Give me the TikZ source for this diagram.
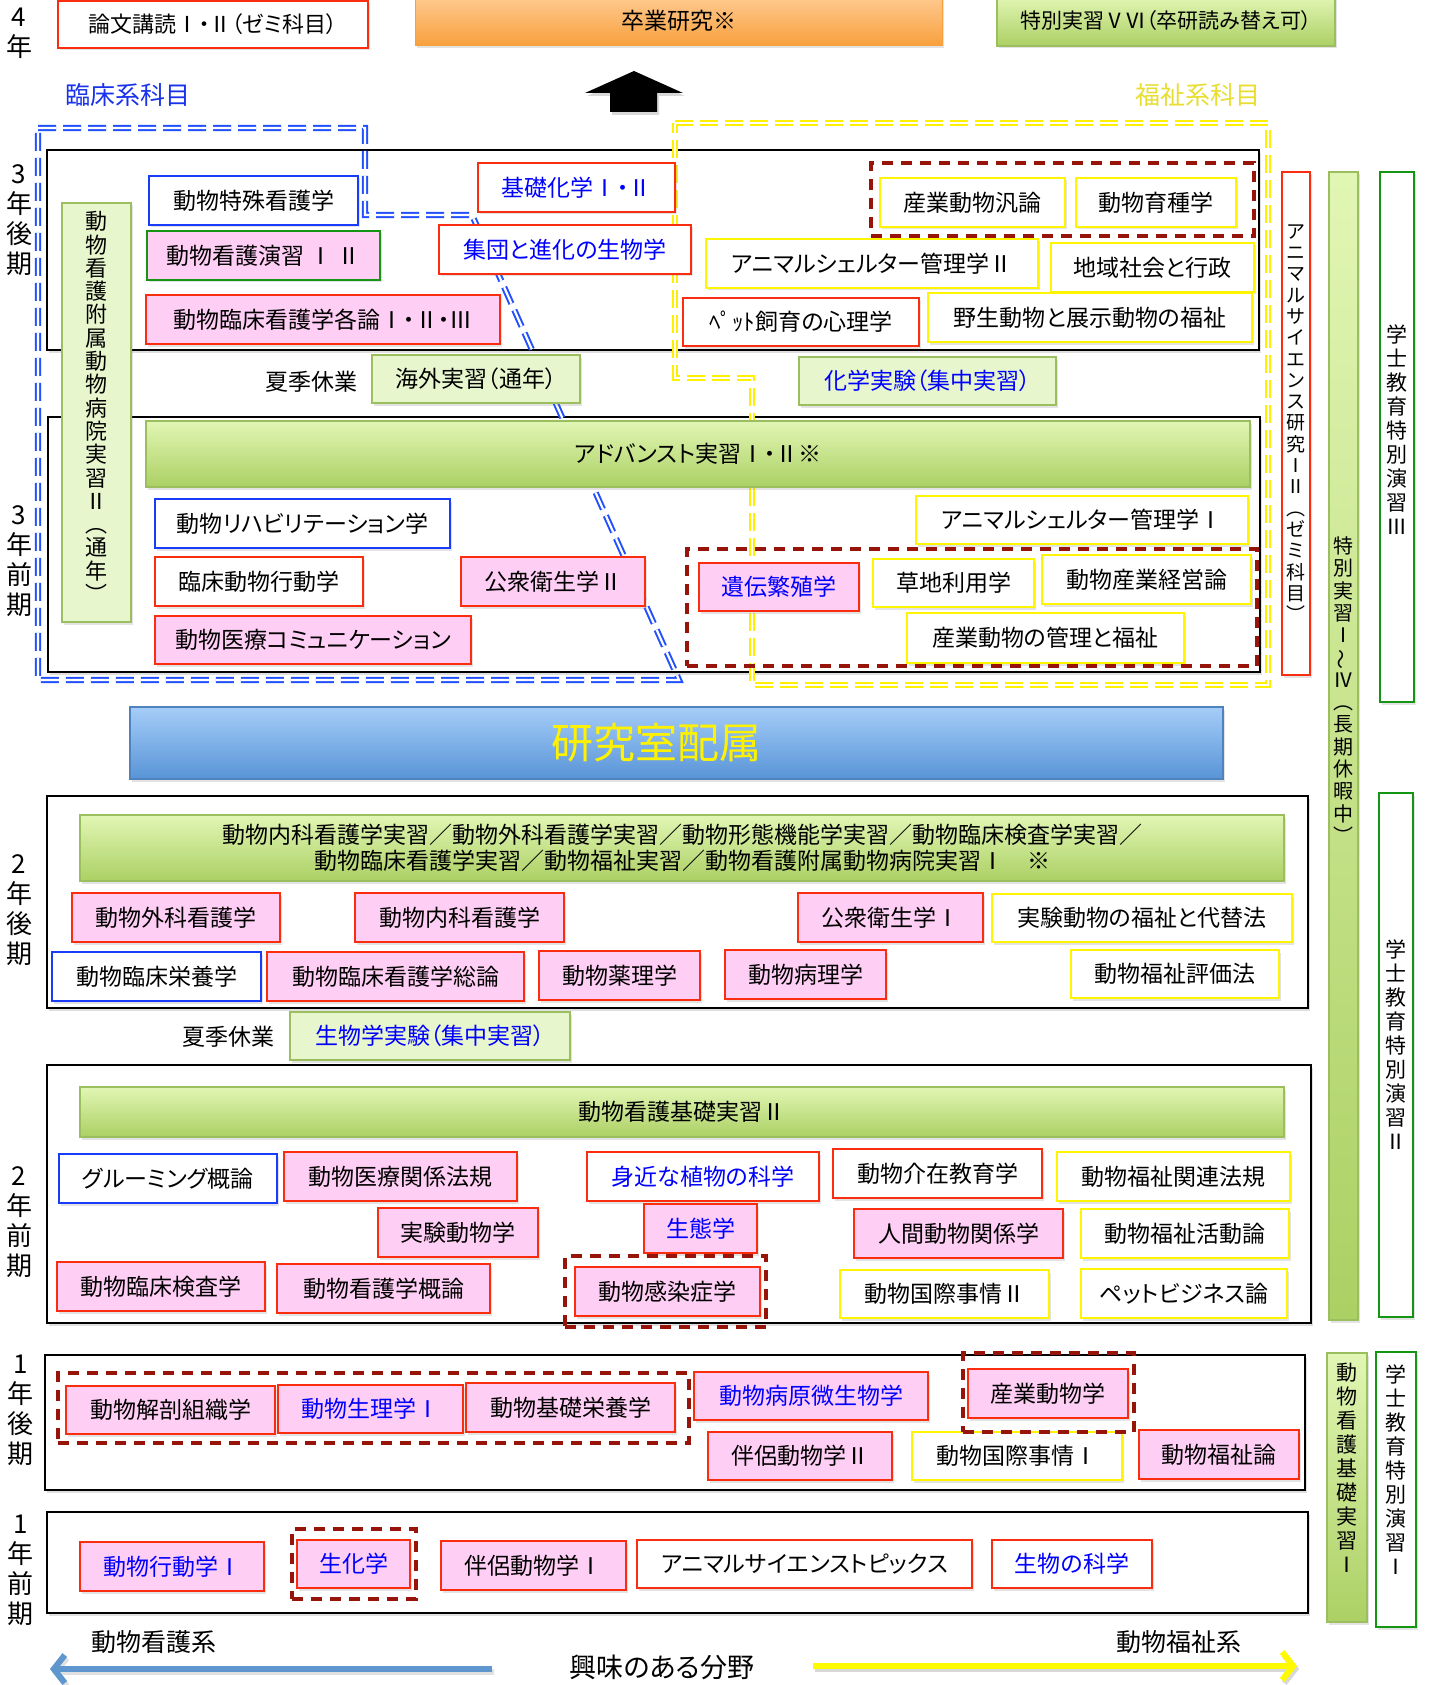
\documentclass[tikz,border=0pt]{standalone}
\usepackage{fontspec}
\usepackage{graphicx}
\setmainfont{Noto Sans CJK JP}[RawFeature=+palt]
\usetikzlibrary{shadows,arrows.meta}
\definecolor{myred}{RGB}{250,45,15}
\definecolor{mypink}{RGB}{255,206,245}
\definecolor{myyel}{RGB}{255,245,0}
\definecolor{mybl}{RGB}{25,60,250}
\definecolor{txbl}{RGB}{0,0,255}
\definecolor{mygrn}{RGB}{20,150,20}
\definecolor{grb}{RGB}{155,190,95}
\definecolor{grtop}{RGB}{225,246,180}
\definecolor{grbot}{RGB}{172,208,100}
\definecolor{grpale}{RGB}{232,246,205}
\definecolor{dred}{RGB}{150,20,10}
\definecolor{otop}{RGB}{255,202,145}
\definecolor{obot}{RGB}{248,160,60}
\definecolor{btop}{RGB}{165,205,248}
\definecolor{bbot}{RGB}{88,148,215}
\definecolor{bbord}{RGB}{80,130,190}
\definecolor{olblue}{RGB}{35,80,255}
\definecolor{olyel}{RGB}{255,240,0}
\definecolor{arblue}{RGB}{95,150,205}
\definecolor{aryel}{RGB}{255,250,0}
\definecolor{fuku}{RGB}{232,222,50}
\definecolor{rinbl}{RGB}{25,50,235}
\newcommand\bx[8][]{\node[#3,#1,minimum width=#6pt-#4pt,minimum height=#7pt-#5pt] (#2) at ({(#4+#6)/2},{(#5+#7)/2}) {#8};}
\begin{document}
\begin{tikzpicture}[x=1pt,y=-1pt,
  base/.style={rectangle,inner sep=0pt,outer sep=0pt,line width=1.6pt,font=\fontsize{23}{27}\selectfont,drop shadow={opacity=0.22,shadow xshift=2pt,shadow yshift=-2.5pt}},
  rp/.style={base,draw=myred,fill=mypink},
  rw/.style={base,draw=myred,fill=white},
  yw/.style={base,draw=myyel,fill=white},
  bw/.style={base,draw=mybl,fill=white},
  gp/.style={base,draw=mygrn,fill=mypink},
  gw/.style={base,draw=mygrn,fill=white},
  gbar/.style={base,draw=grb,line width=1.4pt,top color=grtop,bottom color=grbot},
  gpale/.style={base,draw=grb,line width=1.4pt,fill=grpale},
  orng/.style={base,draw=obot,line width=1pt,top color=otop,bottom color=obot},
  bt/.style={text=txbl},
  cont/.style={rectangle,inner sep=0pt,outer sep=0pt,draw=black,line width=2pt,fill=white,drop shadow={opacity=0.25,shadow xshift=2pt,shadow yshift=-3pt}},
  grp/.style={rectangle,inner sep=0pt,draw=dred,line width=3.5pt,dash pattern=on 11pt off 8pt},
  olb/.style={draw=olblue,line width=2pt,double=white,double distance=2.2pt,dash pattern=on 18pt off 7pt,line join=miter},
  oly/.style={draw=olyel,line width=2pt,double=white,double distance=2.2pt,dash pattern=on 18pt off 7pt,line join=miter},
  vt/.style={align=center,inner sep=0pt},
  yl/.style={align=center,inner sep=0pt,font=\fontsize{26}{30}\selectfont},
  lbl/.style={inner sep=0pt,font=\fontsize{23}{27}\selectfont}
]
\useasboundingbox (0,0) rectangle (1430,1685);
\fill[white] (0,0) rectangle (1430,1685);

% ---------- containers ----------
\bx{c3b}{cont}{47}{150}{1259}{350}{}
\bx{c3a}{cont}{48}{417}{1260}{672}{}
\bx{c2b}{cont}{47}{796}{1308}{1008}{}
\bx{c2a}{cont}{47}{1065}{1311}{1323}{}
\bx{c1b}{cont}{45}{1355}{1305}{1490}{}
\bx{c1a}{cont}{47}{1512}{1308}{1613}{}

% ---------- area outlines ----------
\draw[olb] (38,128) -- (365,128) -- (365,215) -- (472,215) -- (679,680) -- (38,680) -- cycle;
\draw[oly] (675,123) -- (1268,123) -- (1268,685) -- (752,685) -- (752,378) -- (675,378) -- cycle;

% ---------- year 4 ----------
\node[yl] (l4) at (19,33) {4\\年};
\bx[font=\fontsize{22}{26}\selectfont]{ronbun}{rw}{58}{1}{368}{48}{論文講読Ⅰ・Ⅱ（ゼミ科目）}
\bx{sotsu}{orng}{415}{-4}{942}{46}{卒業研究※}
\bx[font=\fontsize{21}{25}\selectfont]{toku56}{gbar}{997}{-4}{1335}{46}{特別実習ⅤⅥ（卒研読み替え可）}
\path[fill=black,drop shadow={opacity=0.3,shadow xshift=2pt,shadow yshift=-3pt}] (585,93) -- (634,71) -- (683,93) -- (657,93) -- (657,112) -- (610,112) -- (610,93) -- cycle;
\node[inner sep=0pt,font=\fontsize{25}{28}\selectfont,text=rinbl] (rinsho) at (128,95) {臨床系科目};
\node[inner sep=0pt,font=\fontsize{25}{28}\selectfont,text=fuku] (fukushi) at (1198,95) {福祉系科目};

% ---------- year 3 later ----------
\node[yl] (l3b) at (19,220) {3\\年\\後\\期};
\bx{fuzokuB}{gpale}{62}{203}{131}{622}{}
\node[vt,font=\fontsize{22}{23.3}\selectfont] (fuzokuT) at (96.5,407) {動\\物\\看\\護\\附\\属\\動\\物\\病\\院\\実\\習\\Ⅱ\\︵\\通\\年\\︶};
\bx{tokushu}{bw}{149}{176}{358}{225}{動物特殊看護学}
\bx{enshu}{gp}{147}{231}{380}{280}{動物看護演習 Ⅰ Ⅱ}
\bx{kakuron}{rp}{146}{295}{500}{344}{動物臨床看護学各論Ⅰ・Ⅱ・Ⅲ}
\bx{kiso}{rw,bt}{478}{163}{675}{212}{基礎化学Ⅰ・Ⅱ}
\bx{shudan}{rw,bt}{439}{225}{691}{274}{集団と進化の生物学}
\bx{sangyo}{yw}{880}{178}{1065}{227}{産業動物汎論}
\bx{ikushu}{yw}{1076}{178}{1236}{227}{動物育種学}
\bx{shelter2}{yw}{706}{239}{1038}{288}{アニマルシェルター管理学Ⅱ}
\bx{chiiki}{yw}{1051}{243}{1254}{292}{地域社会と行政}
\bx{pet}{rw}{683}{298}{919}{346}{ﾍﾟｯﾄ飼育の心理学}
\bx{yasei}{yw}{928}{293}{1252}{342}{野生動物と展示動物の福祉}

\node[lbl] (kaki1) at (311,382) {夏季休業};
\bx{kaigai}{gpale}{372}{355}{580}{403}{海外実習（通年）}
\bx{kagaku}{gpale,bt}{799}{357}{1056}{405}{化学実験（集中実習）}

% ---------- year 3 early ----------
\node[yl] (l3a) at (19,561) {3\\年\\前\\期};
\bx{adv}{gbar}{146}{421}{1250}{487}{アドバンスト実習Ⅰ・Ⅱ※}
\bx{reha}{bw}{155}{499}{450}{548}{動物リハビリテーション学}
\bx{rinkou}{rw}{155}{557}{363}{606}{臨床動物行動学}
\bx{kouei2}{rp}{461}{557}{645}{606}{公衆衛生学Ⅱ}
\bx{comm}{rp}{155}{616}{471}{664}{動物医療コミュニケーション}
\bx{shelter1}{yw}{916}{496}{1248}{544}{アニマルシェルター管理学Ⅰ}
\bx{iden}{rp,bt}{699}{563}{859}{611}{遺伝繁殖学}
\bx{souchi}{yw}{873}{559}{1034}{607}{草地利用学}
\bx{keiei}{yw}{1042}{555}{1251}{604}{動物産業経営論}
\bx{kanri}{yw}{907}{613}{1184}{663}{産業動物の管理と福祉}

% ---------- right columns ----------
\bx{askenB}{rw}{1282}{172}{1310}{675}{}
\node[vt,font=\fontsize{19}{21.3}\selectfont] (askenT) at (1296,423) {ア\\ニ\\マ\\ル\\サ\\イ\\エ\\ン\\ス\\研\\究\\Ⅰ\\Ⅱ\\︵\\ゼ\\ミ\\科\\目\\︶};
\bx{tokuB}{gbar}{1329}{172}{1358}{1320}{}
\node[vt,font=\fontsize{20}{22.3}\selectfont] (tokuT) at (1343.5,690) {特\\別\\実\\習\\Ⅰ\\\rotatebox[origin=c]{90}{〜}\\Ⅳ\\︵\\長\\期\\休\\暇\\中\\︶};
\bx{gak3B}{gw}{1380}{172}{1414}{702}{}
\node[vt,font=\fontsize{21}{24}\selectfont] (gak3T) at (1397,430) {学\\士\\教\\育\\特\\別\\演\\習\\Ⅲ};
\bx{gak2B}{gw}{1379}{793}{1413}{1317}{}
\node[vt,font=\fontsize{21}{24}\selectfont] (gak2T) at (1396,1045) {学\\士\\教\\育\\特\\別\\演\\習\\Ⅱ};
\bx{kiso1B}{gbar}{1327}{1353}{1367}{1622}{}
\node[vt,font=\fontsize{21}{24}\selectfont] (kiso1T) at (1347,1468) {動\\物\\看\\護\\基\\礎\\実\\習\\Ⅰ};
\bx{gak1B}{gw}{1376}{1352}{1416}{1627}{}
\node[vt,font=\fontsize{21}{24}\selectfont] (gak1T) at (1396,1470) {学\\士\\教\\育\\特\\別\\演\\習\\Ⅰ};

% ---------- lab assignment ----------
\bx[font=\fontsize{42}{46}\selectfont]{kenkyu}{base,draw=bbord,line width=1.5pt,top color=btop,bottom color=bbot,text=yellow}{130}{707}{1223}{779}{研究室配属\kern40pt}

% ---------- year 2 later ----------
\node[yl] (l2b) at (19,910) {2\\年\\後\\期};
\bx[align=center,font=\fontsize{23}{26}\selectfont]{jisshu}{gbar}{80}{815}{1284}{881}{動物内科看護学実習／動物外科看護学実習／動物形態機能学実習／動物臨床検査学実習／\\動物臨床看護学実習／動物福祉実習／動物看護附属動物病院実習Ⅰ　※}
\bx{geka}{rp}{72}{893}{280}{942}{動物外科看護学}
\bx{naika}{rp}{355}{893}{564}{942}{動物内科看護学}
\bx{kouei1}{rp}{798}{893}{983}{942}{公衆衛生学Ⅰ}
\bx{daitai}{yw}{992}{894}{1292}{942}{実験動物の福祉と代替法}
\bx{eiyou}{bw}{52}{952}{261}{1001}{動物臨床栄養学}
\bx{souron}{rp}{267}{952}{524}{1001}{動物臨床看護学総論}
\bx{yakuri}{rp}{539}{951}{700}{1000}{動物薬理学}
\bx{byouri}{rp}{725}{950}{886}{999}{動物病理学}
\bx{hyouka}{yw}{1071}{950}{1279}{998}{動物福祉評価法}

\node[lbl] (kaki2) at (228,1037) {夏季休業};
\bx{seibutsu}{gpale,bt}{290}{1012}{570}{1060}{生物学実験（集中実習）}

% ---------- year 2 early ----------
\node[yl] (l2a) at (19,1222) {2\\年\\前\\期};
\bx{kiso2}{gbar}{80}{1087}{1284}{1137}{動物看護基礎実習Ⅱ}
\bx{groom}{bw}{59}{1154}{277}{1203}{グルーミング概論}
\bx{houki}{rp}{284}{1152}{517}{1201}{動物医療関係法規}
\bx{shokubutsu}{rw,bt}{587}{1152}{819}{1201}{身近な植物の科学}
\bx{kaizai}{rw}{833}{1149}{1042}{1198}{動物介在教育学}
\bx{kanren}{yw}{1057}{1152}{1290}{1201}{動物福祉関連法規}
\bx{jikken}{rp}{378}{1208}{538}{1257}{実験動物学}
\bx{seitai}{rp,bt}{644}{1204}{757}{1253}{生態学}
\bx{ningen}{rp}{854}{1209}{1063}{1258}{人間動物関係学}
\bx{katsudou}{yw}{1081}{1209}{1289}{1258}{動物福祉活動論}
\bx{kensa}{rp}{57}{1262}{265}{1311}{動物臨床検査学}
\bx{gairon}{rp}{277}{1264}{490}{1313}{動物看護学概論}
\bx{kansen}{rp}{575}{1267}{760}{1316}{動物感染症学}
\bx{kokusai2}{yw}{840}{1270}{1049}{1318}{動物国際事情Ⅱ}
\bx{business}{yw}{1081}{1269}{1287}{1318}{ペットビジネス論}

% ---------- year 1 later ----------
\node[yl] (l1b) at (21,1410) {1\\年\\後\\期};
\bx{kaibou}{rp}{66}{1386}{275}{1434}{動物解剖組織学}
\bx{seiri}{rp,bt}{278}{1385}{463}{1433}{動物生理学Ⅰ}
\bx{kisoei}{rp}{466}{1383}{675}{1432}{動物基礎栄養学}
\bx{biseibutsu}{rp,bt}{694}{1372}{928}{1420}{動物病原微生物学}
\bx{sangyodb}{rp}{968}{1369}{1128}{1418}{産業動物学}
\bx{hanryo2}{rp}{708}{1432}{892}{1480}{伴侶動物学Ⅱ}
\bx{kokusai1}{yw}{912}{1432}{1122}{1480}{動物国際事情Ⅰ}
\bx{fukushiron}{rp}{1139}{1430}{1299}{1479}{動物福祉論}

% ---------- year 1 early ----------
\node[yl] (l1a) at (21,1570) {1\\年\\前\\期};
\bx{koudou1}{rp,bt}{80}{1542}{264}{1591}{動物行動学Ⅰ}
\bx{seika}{rp,bt}{297}{1540}{410}{1588}{生化学}
\bx{hanryo1}{rp}{441}{1541}{626}{1590}{伴侶動物学Ⅰ}
\bx{topics}{rw}{637}{1540}{972}{1588}{アニマルサイエンストピックス}
\bx{seibutsunokagaku}{rw,bt}{992}{1540}{1152}{1588}{生物の科学}

% ---------- dashed groups ----------
\bx{g1}{grp}{871}{163}{1254}{236}{}
\bx{g2}{grp}{687}{549}{1257}{666}{}
\bx{g3}{grp}{565}{1256}{766}{1327}{}
\bx{g4}{grp}{58}{1373}{689}{1443}{}
\bx{g5}{grp}{963}{1353}{1134}{1432}{}
\bx{g6}{grp}{292}{1529}{416}{1599}{}

% ---------- bottom ----------
\node[inner sep=0pt,font=\fontsize{25}{28}\selectfont] (kangokei) at (154,1642) {動物看護系};
\node[inner sep=0pt,font=\fontsize{25}{28}\selectfont] (fukushikei) at (1179,1642) {動物福祉系};
\node[inner sep=0pt,font=\fontsize{27}{30}\selectfont] (kyomi) at (662,1667) {興味のある分野};
\coordinate (ba1) at (492,1669);
\coordinate (ba2) at (50,1669);
\coordinate (ya1) at (813,1666);
\coordinate (ya2) at (1297,1666);
\draw[black!30,opacity=0.4,line width=6pt,-{Straight Barb[length=11pt,width=28pt]},transform canvas={xshift=2pt,yshift=-3pt}] (ba1) -- (ba2);
\draw[arblue,line width=6pt,-{Straight Barb[length=11pt,width=28pt]}] (ba1) -- (ba2);
\draw[black!30,opacity=0.5,line width=6pt,-{Straight Barb[length=11pt,width=28pt]},transform canvas={xshift=2pt,yshift=-3pt}] (ya1) -- (ya2);
\draw[aryel,line width=6pt,-{Straight Barb[length=11pt,width=28pt]}] (ya1) -- (ya2);
\end{tikzpicture}
\end{document}
